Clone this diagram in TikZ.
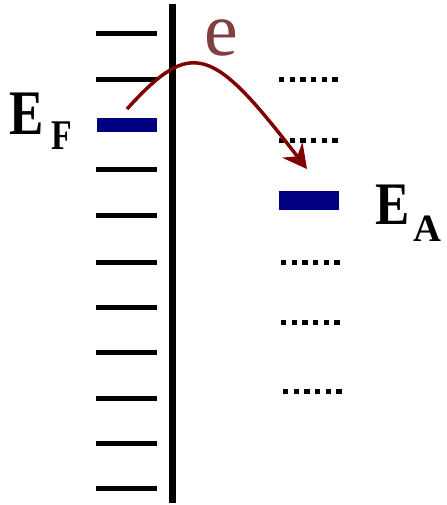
\documentclass[tikz,border=0pt]{standalone}
\usepackage{fontspec}
\setmainfont{Liberation Serif}
\usetikzlibrary{arrows.meta}
\definecolor{barnavy}{HTML}{000080}
\definecolor{hopred}{HTML}{800000}
\definecolor{ebrown}{HTML}{804040}

\begin{document}
\begin{tikzpicture}[
    x=0.75pt, y=-0.75pt,
    wall/.style={line width=5.6pt},
    level/.style={line width=3.75pt},
    bar/.style={line width=10.5pt, draw=barnavy},
    dotlevel/.style={line width=3.75pt, dash pattern=on 4pt off 4pt},
    hop/.style={-{Stealth[length=18pt, width=19pt, inset=6pt]}, line width=2.6pt, draw=hopred},
    lbl/.style={anchor=base west, inner sep=0pt, font=\bfseries\fontsize{47.6pt}{48pt}\selectfont}
]
    \useasboundingbox (0,0) rectangle (446,505);
    % surface
    \draw[wall] (172.5,4) -- (172.5,503);
    % metal levels
    \foreach \y in {34,80,170,216,262,307,352,398,443,488}
        \draw[level] (96,\y) -- (156.5,\y);
    \draw[bar] (97,125.3) -- (157,125.3);
    % adsorbate levels
    \foreach \y/\x in {80/279,141/279,262/281,322/281,391/283}
        \draw[dotlevel] (\x,\y) -- ++(58.7,0);
    \draw[bar, line width=14.25pt] (278.5,200.5) -- (338.5,200.5);

    \node[lbl] (ef) at (9,135) {\scalebox{0.81}[1]{E}\hspace{5.6pt}\raisebox{-11.25pt}{\fontsize{31.7pt}{32pt}\selectfont\scalebox{0.8}[1]{F}}};
    \node[lbl, font=\bfseries\fontsize{45.3pt}{46pt}\selectfont] (ea) at (375,225) {\scalebox{0.85}[1]{E}\hspace{3pt}\raisebox{-12.75pt}{\fontsize{29pt}{30pt}\selectfont A}};
    \node[anchor=base west, inner sep=0pt, text=ebrown, font=\fontsize{57pt}{58pt}\selectfont] (el) at (204,56) {e};

    \coordinate (hop start) at (127,109);
    \coordinate (hop end) at (307,169);
    \draw[hop] (hop start) .. controls (192,37.5) and (212,45.5) .. (hop end);
\end{tikzpicture}
\end{document}
